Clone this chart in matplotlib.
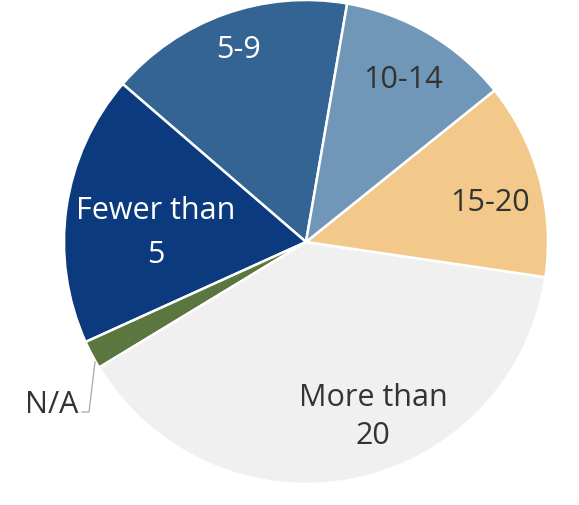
import matplotlib.pyplot as plt

labels = ["5-9", "Fewer than\n5", "N/A", "More than\n20", "15-20", "10-14"]
values = [16.4, 18.1, 1.9, 39.0, 13.1, 11.5]
colors = ["#336493", "#0b3a7e", "#5b763f", "#f0f0f0", "#f2c98b", "#7097b8"]

plt.rcParams['font.family'] = ['Open Sans', 'DejaVu Sans']

fig = plt.figure(figsize=(5.79, 5.06), dpi=100)
ax = fig.add_axes([0, 0, 1, 1])

cx, cy, r = 306, 506 - 243, 242
ax.pie(values, colors=colors, startangle=80.2, counterclock=True,
       center=(cx, cy), radius=r, frame=True,
       wedgeprops=dict(edgecolor='white', linewidth=1.8))
ax.set_xlim(0, 579)
ax.set_ylim(0, 506)
ax.set_aspect('equal')
ax.axis('off')

# label positions in pixels (x, y from top)
pos = {"5-9": (238, 50), "Fewer than\n5": (156, 233), "N/A": (52, 405),
       "More than\n20": (373, 417), "15-20": (490, 203), "10-14": (403, 80)}
tcol = {"5-9": "white", "Fewer than\n5": "white", "N/A": "#333333",
        "More than\n20": "#333333", "15-20": "#333333", "10-14": "#333333"}
lsp = {"Fewer than\n5": 1.6}
for lab in labels:
    x, y = pos[lab]
    ax.text(x, 506 - y, lab, ha='center', va='center', fontsize=22,
            color=tcol[lab], linespacing=lsp.get(lab, 1.36))

# leader line for N/A
ax.plot([95, 89, 82], [506 - 363, 506 - 413, 506 - 413], color='#b0b0b0', lw=1)

fig.savefig('out.png', dpi=100)
